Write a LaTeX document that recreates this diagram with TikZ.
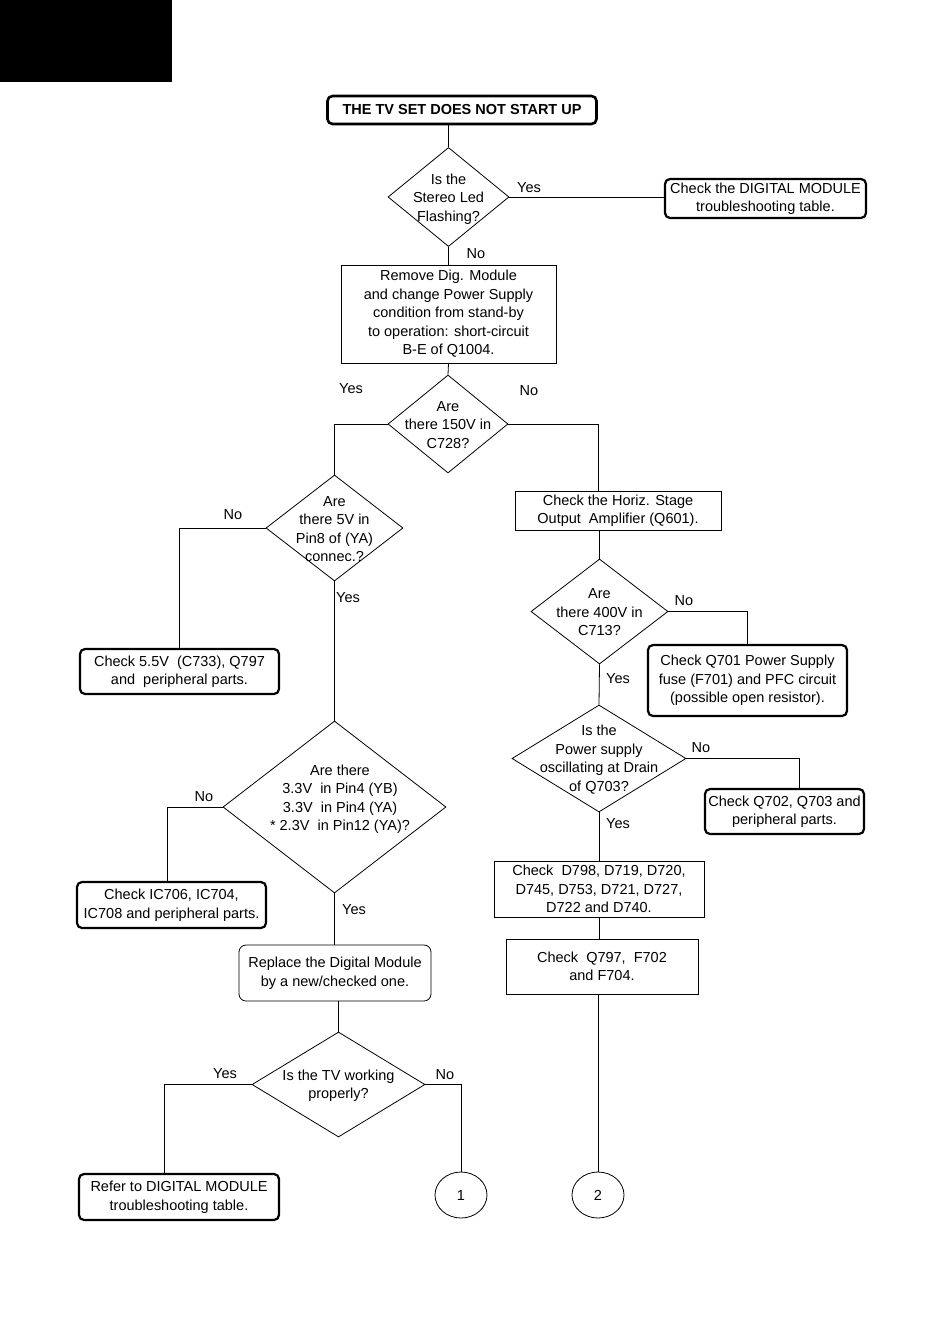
\documentclass[tikz,border=0pt]{standalone}
\usepackage{fontspec}
\setmainfont{Liberation Sans}
\usetikzlibrary{shapes.geometric}
\tikzset{
    box/.style = {draw, line width=0.8pt, align=center, inner sep=2pt},
    bold box/.style = {draw, line width=2.2pt, rounded corners=5pt, align=center, inner sep=2pt},
    soft box/.style = {draw, line width=0.8pt, rounded corners=7pt, align=center, inner sep=2pt},
    link/.style = {line width=0.8pt}
}

\begin{document}
\begin{tikzpicture}[
    x=1pt, y=-1pt,
    font=\fontsize{14.5}{18.5}\selectfont,
    decision/.style = {diamond, draw, line width=0.8pt, inner sep=0pt},
    pageref/.style = {ellipse, draw, line width=0.8pt, minimum width=52pt, minimum height=46pt, inner sep=0pt},
    answer/.style = {inner sep=1pt}
    ]
    \useasboundingbox (0,0) rectangle (950,1344);
    \fill (0,0) rectangle (172,82);

    %%% Top
    \node[bold box, line width=2.6pt, minimum width=269pt, minimum height=28pt, font=\fontsize{14.5}{18.5}\selectfont\bfseries] (start) at (462,110) {THE TV SET DOES NOT START UP};
    \node[decision, minimum width=121pt, minimum height=99pt, label={[align=center, yshift=-2pt]center:{Is the\\Stereo Led\\Flashing?}}] (led) at (448.5,197) {};
    \node[bold box, minimum width=201pt, minimum height=39pt] (digital) at (765.5,198.5) {Check the DIGITAL MODULE\\troubleshooting table.};
    \node[box, minimum width=215pt, minimum height=98pt] (remove) at (448.5,314) {Remove Dig. Module\\and change Power Supply\\condition from stand-by\\to operation: short-circuit\\B-E of Q1004.};
    \node[decision, minimum width=120pt, minimum height=98pt, label={[align=center, yshift=-1pt]center:{Are\\there 150V in\\C728?}}] (v150) at (448,424) {};

    %%% Left branch
    \node[decision, minimum width=137pt, minimum height=106pt, label={[align=center, yshift=-1pt]center:{Are\\there 5V in\\Pin8 of (YA)\\connec.?}}] (v5) at (334.5,528) {};
    \node[bold box, minimum width=199pt, minimum height=45pt] (c733) at (179.5,671.5) {Check 5.5V\ \ (C733), Q797\\and\ \ peripheral parts.};
    \node[decision, minimum width=223pt, minimum height=172pt] (v33) at (334.5,807) {};
    \node[align=center] (v33text) at (340,799) {Are there\\3.3V\ \ in Pin4 (YB)\\3.3V\ \ in Pin4 (YA)\\* 2.3V\ \ in Pin12 (YA)?};
    \node[bold box, minimum width=189pt, minimum height=46pt] (ic706) at (171.5,905) {Check IC706, IC704,\\IC708 and peripheral parts.};
    \node[soft box, minimum width=192pt, minimum height=56pt] (replace) at (335,973) {Replace the Digital Module\\by a new/checked one.};
    \node[decision, minimum width=173pt, minimum height=105pt, label={[align=center, yshift=-1pt]center:{Is the TV working\\properly?}}] (working) at (338.5,1084.5) {};
    \node[bold box, minimum width=200pt, minimum height=46pt] (refer) at (179,1197) {Refer to DIGITAL MODULE\\troubleshooting table.};
    \node[pageref] (one) at (461,1195) {1};

    %%% Right branch
    \node[box, minimum width=206pt, minimum height=39pt] (horiz) at (618,510.5) {Check the Horiz. Stage\\Output\ \ Amplifier (Q601).};
    \node[decision, minimum width=137pt, minimum height=105pt, label={[align=center, yshift=-1pt]center:{Are\\there 400V in\\C713?}}] (v400) at (599.5,611.5) {};
    \node[bold box, minimum width=199pt, minimum height=71pt] (q701) at (747.5,680.5) {Check Q701 Power Supply\\fuse (F701) and PFC circuit\\(possible open resistor).};
    \node[decision, minimum width=174pt, minimum height=107pt, label={[align=center, yshift=-1pt]center:{Is the\\Power supply\\oscillating at Drain\\of Q703?}}] (osc) at (599,758.5) {};
    \node[bold box, minimum width=159pt, minimum height=45pt] (q702) at (784.5,811.5) {Check Q702, Q703 and\\peripheral parts.};
    \node[box, minimum width=210pt, minimum height=56pt] (diodes) at (599,889) {Check\ \ D798, D719, D720,\\D745, D753, D721, D727,\\D722 and D740.};
    \node[box, minimum width=192pt, minimum height=55pt] (fuses) at (602,966.5) {Check\ \ Q797,\ \ F702\\and F704.};
    \node[pageref] (two) at (598,1195) {2};

    %%% Connectors
    \draw[link] (led.north |- start.south) -- (led.north);
    \draw[link] (led.east) -- (led.east -| digital.west);
    \draw[link] (led.south) -- (remove.north);
    \draw[link] (remove.south) -- (v150.north);
    \draw[link] (v150.west) -| (v5.north);
    \draw[link] (v150.east) -| ([xshift=-20pt]horiz.north);
    \draw[link] (v5.west) -| (c733.north);
    \draw[link] (v5.south) -- (v33.north);
    \draw[link] (v33.west) -| ([xshift=-4.5pt]ic706.north);
    \draw[link] (v33.south) -- (v33.south |- replace.north);
    \draw[link] (replace.south -| working.north) -- (working.north);
    \draw[link] (working.west) -| ([xshift=-15pt]refer.north);
    \draw[link] (working.east) -| (one.north);
    \draw[link] (v400.north |- horiz.south) -- (v400.north);
    \draw[link] (v400.east) -| (q701.north);
    \draw[link] (v400.south) -- (osc.north);
    \draw[link] (osc.east) -| ([xshift=14.5pt]q702.north);
    \draw[link] (osc.south) -- (diodes.north);
    \draw[link] (diodes.south) -- (diodes.south |- fuses.north);
    \draw[link] (two.north |- fuses.south) -- (two.north);

    % answers
    \node[answer] (ledyes)     at (529,188)  {Yes};
    \node[answer] (ledno)      at (476,254)  {No};
    \node[answer] (v150yes)    at (351,389)  {Yes};
    \node[answer] (v150no)     at (529,391)  {No};
    \node[answer] (v5no)       at (233,515)  {No};
    \node[answer] (v5yes)      at (348,598)  {Yes};
    \node[answer] (v33no)      at (204,797)  {No};
    \node[answer] (v33yes)     at (354,910)  {Yes};
    \node[answer] (workingyes) at (225,1074) {Yes};
    \node[answer] (workingno)  at (445,1075) {No};
    \node[answer] (v400no)     at (684,601)  {No};
    \node[answer] (v400yes)    at (618,679)  {Yes};
    \node[answer] (oscno)      at (701,748)  {No};
    \node[answer] (oscyes)     at (618,824)  {Yes};
\end{tikzpicture}
\end{document}
